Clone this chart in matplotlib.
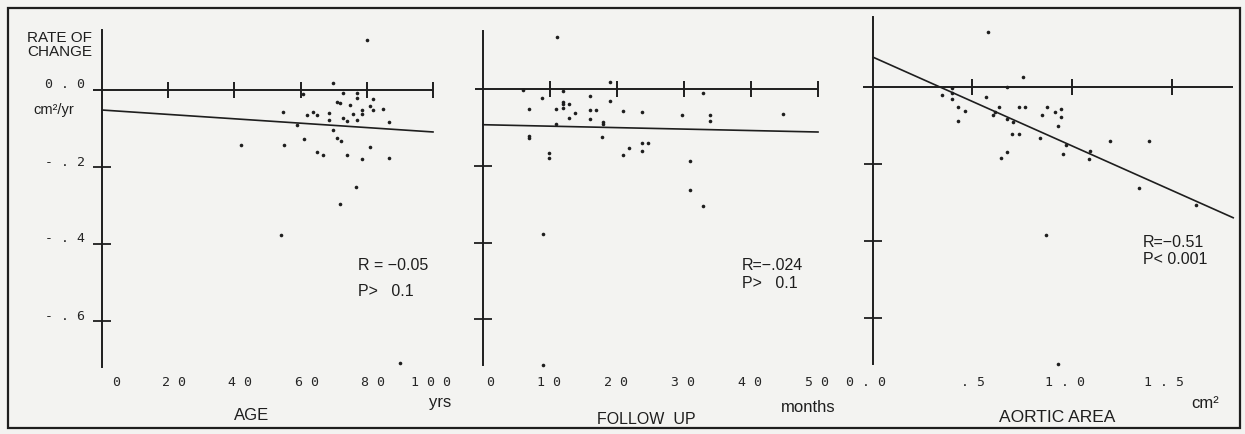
import matplotlib
matplotlib.use("Agg")
import matplotlib.pyplot as plt
from matplotlib.transforms import offset_copy
from matplotlib.patches import Rectangle

# ---------------- data ----------------
age_x = [80.0, 69.9, 60.8, 72.9, 76.9, 76.9, 81.9, 71.1, 71.9, 74.9, 81.0, 81.9, 85.0,
         54.8, 61.8, 63.8, 64.9, 68.7, 72.9, 73.9, 75.7, 78.7, 78.7, 76.9, 68.7, 86.8,
         58.8, 69.9, 55.0, 61.0, 71.1, 72.1, 81.0, 64.9, 66.7, 73.9, 78.7, 86.8, 41.9,
         76.7, 71.9, 54.0, 90.0]
age_y = [0.131, 0.017, -0.011, -0.009, -0.009, -0.020, -0.023, -0.030, -0.035, -0.039,
         -0.041, -0.052, -0.050, -0.056, -0.065, -0.056, -0.065, -0.059, -0.073, -0.080,
         -0.063, -0.052, -0.063, -0.078, -0.078, -0.082, -0.092, -0.104, -0.142, -0.127,
         -0.125, -0.132, -0.149, -0.161, -0.168, -0.170, -0.179, -0.177, -0.144, -0.252,
         -0.295, -0.376, -0.710]

fu_x = [11.0, 18.9, 5.9, 11.9, 8.8, 16.0, 18.9, 11.9, 11.9, 11.9, 12.8, 6.9, 10.9, 16.0,
        16.9, 13.7, 20.9, 23.8, 12.8, 16.0, 17.9, 17.9, 10.9, 6.9, 6.9, 17.8, 23.8, 24.7,
        21.8, 23.8, 9.9, 9.9, 20.9, 32.9, 29.7, 33.9, 33.9, 44.8, 30.9, 30.9, 32.9, 8.9, 9.0]
fu_y = [0.135, 0.017, -0.003, -0.004, -0.023, -0.017, -0.030, -0.033, -0.040, -0.050,
        -0.039, -0.052, -0.053, -0.055, -0.055, -0.063, -0.057, -0.061, -0.075, -0.079,
        -0.085, -0.091, -0.092, -0.122, -0.128, -0.124, -0.141, -0.141, -0.153, -0.162,
        -0.166, -0.180, -0.172, -0.010, -0.068, -0.068, -0.084, -0.066, -0.188, -0.263,
        -0.305, -0.378, -0.719]

ao_x = [0.576, 0.756, 0.675, 0.345, 0.395, 0.395, 0.395, 0.568, 0.429, 0.462, 0.429,
        0.633, 0.613, 0.601, 0.736, 0.764, 0.672, 0.873, 0.848, 0.915, 0.930, 0.943,
        0.943, 0.697, 0.736, 0.839, 0.705, 0.672, 0.642, 0.970, 0.956, 1.090, 1.087,
        1.191, 1.388, 1.338, 1.623, 0.868, 0.931]
ao_y = [0.141, 0.025, -0.002, -0.022, -0.005, -0.016, -0.033, -0.026, -0.052, -0.064,
        -0.090, -0.052, -0.065, -0.074, -0.054, -0.054, -0.083, -0.054, -0.074, -0.065,
        -0.103, -0.059, -0.080, -0.124, -0.124, -0.133, -0.091, -0.169, -0.184, -0.152,
        -0.175, -0.166, -0.187, -0.142, -0.142, -0.262, -0.306, -0.386, -0.720]

age_fit_x = [0, 100]
age_fit_y = [-0.052, -0.109]
fu_fit_x = [0, 50]
fu_fit_y = [-0.093, -0.112]
ao_fit_x = [0.0, 1.81]
ao_fit_y = [0.076, -0.340]

y_ticks = [-0.2, -0.4, -0.6]
y_tick_labels = ["0.0", "-.2", "-.4", "-.6"]
y_label_vals = [0.0, -0.2, -0.4, -0.6]

age_ticks = [0, 20, 40, 60, 80, 100]
age_labels = ["0", "20", "40", "60", "80", "100"]
fu_ticks = [0, 10, 20, 30, 40, 50]
fu_labels = ["0", "10", "20", "30", "40", "50"]
ao_ticks = [0.5, 1.0, 1.5]
ao_label_pos = [0.0, 0.5, 1.0, 1.5]
ao_labels = ["0.0", ".5", "1.0", "1.5"]

stats = [("R = \u22120.05", "P>   0.1"), ("R=\u2212.024", "P>   0.1"), ("R=\u22120.51", "P< 0.001")]

# ---------------- figure ----------------
W, H = 1245, 434
BG = "#f3f3f1"
INK = "#1e1e1e"
fig = plt.figure(figsize=(W / 100, H / 100), dpi=100, facecolor=BG)

def fpx(x, y):
    return x / W, 1 - y / H

def make_ax(x0, xs, y0, ys, xlim, ylim):
    l = x0 + xlim[0] * xs
    r = x0 + xlim[1] * xs
    t = y0 - ylim[1] * ys
    b = y0 - ylim[0] * ys
    ax = fig.add_axes([l / W, 1 - b / H, (r - l) / W, (b - t) / H])
    ax.set_xlim(*xlim)
    ax.set_ylim(*ylim)
    ax.axis("off")
    ax.patch.set_visible(False)
    return ax

YLIM = (-0.78, 0.2)
panels = [
    dict(x0=102, xs=3.31, y0=90, ys=385, xlim=(-6, 106), axis_top=0.156, hstart=-2.7, hend=100,
         x=age_x, y=age_y, fx=age_fit_x, fy=age_fit_y, ticks=age_ticks[1:],
         lpos=age_ticks, labels=age_labels, loff=18, stat_px=(358, 266, 291)),
    dict(x0=483, xs=6.7, y0=89, ys=384, xlim=(-3, 53), axis_top=0.152, hstart=-1.2, hend=50,
         x=fu_x, y=fu_y, fx=fu_fit_x, fy=fu_fit_y, ticks=fu_ticks[1:],
         lpos=fu_ticks, labels=fu_labels, loff=11, stat_px=(742, 265, 283)),
    dict(x0=873, xs=199, y0=86.5, ys=386, xlim=(-0.15, 1.85), axis_top=0.18, hstart=-0.05, hend=1.81,
         x=ao_x, y=ao_y, fx=ao_fit_x, fy=ao_fit_y, ticks=ao_ticks,
         lpos=ao_label_pos, labels=ao_labels, loff=13, stat_px=(1143, 243, 259)),
]

for i, p in enumerate(panels):
    ax = make_ax(p["x0"], p["xs"], p["y0"], p["ys"], p["xlim"], YLIM)
    # zero line with ticks
    ax.plot([p["hstart"], p["hend"]], [0, 0], color=INK, lw=1.4, solid_capstyle="butt")
    ax.plot(p["ticks"], [0] * len(p["ticks"]), ls="none", marker="|", ms=11.5, mew=1.4, color=INK)
    # vertical axis with ticks
    ax.plot([0, 0], [-0.719, p["axis_top"]], color=INK, lw=1.4)
    ax.plot([0] * len(y_ticks), y_ticks, ls="none", marker="_", ms=13, mew=1.3, color=INK)
    # regression line
    ax.plot(p["fx"], p["fy"], color=INK, lw=1.2)
    # data points
    ax.plot(p["x"], p["y"], ls="none", marker="o", ms=2.6, color=INK, mew=0)
    # x tick labels (right aligned, offset to the right)
    tr = offset_copy(ax.transData, fig=fig, x=p["loff"] * 0.72, y=0, units="points")
    ylab = -(383 - p["y0"]) / p["ys"]
    for xv, lab in zip(p["lpos"], p["labels"]):
        ax.text(xv, ylab, " ".join(lab), transform=tr, ha="right", va="center",
                family="DejaVu Sans Mono", fontsize=9.5, color="#262626")
    # stats
    sx, sy1, sy2 = p["stat_px"]
    fig.text(*fpx(sx, sy1), stats[i][0], ha="left", va="center", family="Liberation Sans",
             fontsize=11.5, color=INK)
    fig.text(*fpx(sx, sy2), stats[i][1], ha="left", va="center", family="Liberation Sans",
             fontsize=11.5, color=INK)
    if i == 0:
        trl = offset_copy(ax.transData, fig=fig, x=-17 * 0.72, y=5 * 0.72, units="points")
        for yv, lab in zip(y_label_vals, y_tick_labels):
            ax.text(0, yv, " ".join(lab), transform=trl, ha="right", va="center",
                    family="DejaVu Sans Mono", fontsize=9.5, color="#262626")

# axis titles
fig.text(*fpx(92, 45), "RATE OF\nCHANGE", ha="right", va="center", family="Liberation Sans",
         fontsize=11, color=INK, linespacing=1.05)
fig.text(*fpx(54, 110), "cm\u00b2/yr", ha="center", va="center", family="Liberation Sans",
         fontsize=10.5, color=INK)
fig.text(*fpx(252, 416), "AGE", ha="center", va="center", family="Liberation Sans", fontsize=12, color=INK)
fig.text(*fpx(440, 402), "yrs", ha="center", va="center", family="Liberation Sans", fontsize=12, color=INK)
fig.text(*fpx(646, 420), "FOLLOW  UP", ha="center", va="center", family="Liberation Sans", fontsize=11.5, color=INK)
fig.text(*fpx(808, 407), "months", ha="center", va="center", family="Liberation Sans", fontsize=12, color=INK)
fig.text(*fpx(1057, 418), "AORTIC AREA", ha="center", va="center", family="Liberation Sans", fontsize=12.5, color=INK)
fig.text(*fpx(1205, 403), "cm\u00b2", ha="center", va="center", family="Liberation Sans", fontsize=12, color=INK)

# outer frame
fig.patches.append(Rectangle(fpx(8, 428), (1240 - 8) / W, (428 - 8) / H, transform=fig.transFigure,
                             fill=False, edgecolor=INK, lw=1.6))

fig.savefig("out.png", dpi=100, facecolor=BG)
